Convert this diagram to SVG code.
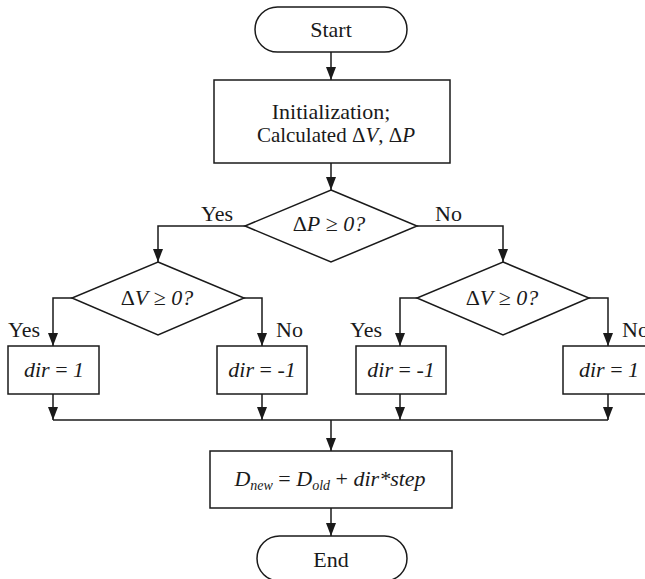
<svg xmlns="http://www.w3.org/2000/svg" width="645" height="579" viewBox="0 0 645 579">
  <defs>
    <style>
      .shape { fill: #ffffff; stroke: #1a1a1a; stroke-width: 1.5; }
      .wire { fill: none; stroke: #1a1a1a; stroke-width: 1.5; }
      .mid { text-anchor: middle; }
      .it { font-style: italic; }
      .sub { font-size: 14px; font-style: italic; }
    </style>
    <marker id="arrow" viewBox="0 0 13 10" refX="13" refY="5" markerWidth="13" markerHeight="10" markerUnits="userSpaceOnUse" orient="auto">
      <path d="M0,0 L13,5 L0,10 Z" fill="#1a1a1a"/>
    </marker>
  </defs>
  <rect width="645" height="579" fill="#ffffff"/>

  <!-- connectors -->
  <g id="connectors" class="wire">
    <line x1="331" y1="52" x2="331" y2="80" marker-end="url(#arrow)"/>
    <line x1="331" y1="163" x2="331" y2="190" marker-end="url(#arrow)"/>
    <polyline points="245,226 158,226 158,262" marker-end="url(#arrow)"/>
    <polyline points="417,226 503,226 503,262" marker-end="url(#arrow)"/>
    <polyline points="72,298 53,298 53,346" marker-end="url(#arrow)"/>
    <polyline points="244,298 262,298 262,346" marker-end="url(#arrow)"/>
    <polyline points="417,298 400,298 400,346" marker-end="url(#arrow)"/>
    <polyline points="589,298 608,298 608,346" marker-end="url(#arrow)"/>
    <line x1="53" y1="394" x2="53" y2="420" marker-end="url(#arrow)"/>
    <line x1="262" y1="394" x2="262" y2="420" marker-end="url(#arrow)"/>
    <line x1="400" y1="394" x2="400" y2="420" marker-end="url(#arrow)"/>
    <line x1="608" y1="394" x2="608" y2="420" marker-end="url(#arrow)"/>
    <line x1="53" y1="420" x2="608" y2="420"/>
    <line x1="331" y1="420" x2="331" y2="451" marker-end="url(#arrow)"/>
    <line x1="331" y1="508" x2="331" y2="536" marker-end="url(#arrow)"/>
  </g>

  <g font-family="Liberation Serif, Times New Roman, DejaVu Serif, serif" font-size="22" fill="#1a1a1a">
    <!-- branch labels -->
    <g id="labels">
      <text x="233" y="221" text-anchor="end">Yes</text>
      <text x="435" y="221">No</text>
      <text x="8" y="337">Yes</text>
      <text x="276" y="337">No</text>
      <text x="350" y="337">Yes</text>
      <text x="622" y="337">No</text>
    </g>

    <g id="start">
      <rect class="shape" x="255" y="7" width="152" height="45" rx="22.5" ry="22.5"/>
      <text class="mid" x="331" y="37">Start</text>
    </g>

    <g id="init">
      <rect class="shape" x="214" y="80" width="236" height="83"/>
      <text class="mid" x="331" y="119">Initialization;</text>
      <text class="mid" x="336" y="142" font-size="21">Calculated Δ<tspan class="it">V</tspan>, Δ<tspan class="it">P</tspan></text>
    </g>

    <g id="check-dp">
      <polygon class="shape" points="331,190 417,226 331,262 245,226"/>
      <text class="mid" x="329" y="231">Δ<tspan class="it">P</tspan> ≥ <tspan class="it">0?</tspan></text>
    </g>

    <g id="check-dv-left">
      <polygon class="shape" points="158,262 244,298 158,335 72,298"/>
      <text class="mid" x="157" y="305">Δ<tspan class="it">V</tspan> ≥ <tspan class="it">0?</tspan></text>
    </g>

    <g id="check-dv-right">
      <polygon class="shape" points="503,262 589,298 503,335 417,298"/>
      <text class="mid" x="502" y="305">Δ<tspan class="it">V</tspan> ≥ <tspan class="it">0?</tspan></text>
    </g>

    <g id="dir-a">
      <rect class="shape" x="8" y="346" width="91" height="48"/>
      <text class="mid" x="54" y="377"><tspan class="it">dir</tspan> = <tspan class="it">1</tspan></text>
    </g>

    <g id="dir-b">
      <rect class="shape" x="217" y="346" width="90" height="48"/>
      <text class="mid" x="262" y="377"><tspan class="it">dir</tspan> = <tspan class="it">-1</tspan></text>
    </g>

    <g id="dir-c">
      <rect class="shape" x="356" y="346" width="90" height="48"/>
      <text class="mid" x="401" y="377"><tspan class="it">dir</tspan> = <tspan class="it">-1</tspan></text>
    </g>

    <g id="dir-d">
      <rect class="shape" x="563" y="346" width="91" height="48"/>
      <text class="mid" x="609" y="377"><tspan class="it">dir</tspan> = <tspan class="it">1</tspan></text>
    </g>

    <g id="update">
      <rect class="shape" x="210" y="451" width="242" height="57"/>
      <text class="mid" x="330" y="486"><tspan class="it">D</tspan><tspan class="sub" dy="4">new</tspan><tspan dy="-4"> = </tspan><tspan class="it">D</tspan><tspan class="sub" dy="4">old</tspan><tspan dy="-4"> + </tspan><tspan class="it">dir*step</tspan></text>
    </g>

    <g id="end">
      <rect class="shape" x="257" y="536" width="150" height="45" rx="22.5" ry="22.5"/>
      <text class="mid" x="331" y="567">End</text>
    </g>
  </g>
</svg>
